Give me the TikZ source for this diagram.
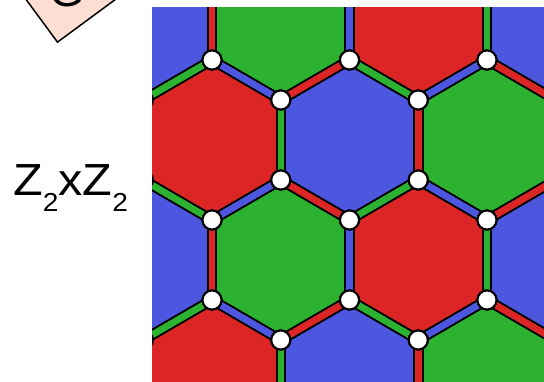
\documentclass[tikz,border=0pt]{standalone}
\usepackage{fontspec}
\setmainfont{Liberation Sans}
\usetikzlibrary{calc}

\definecolor{plaqred}{RGB}{220,38,38}
\definecolor{plaqgreen}{RGB}{45,177,48}
\definecolor{plaqblue}{RGB}{76,86,222}
\definecolor{grouppink}{RGB}{252,222,210}

\newcommand{\lowtwo}{\raisebox{-16pt}{\fontsize{26}{26}\selectfont 2}}
% runs #1 once per plaquette, centre (\cx,\cy), colour \col
\newcommand{\eachplaq}[1]{%
  \foreach \r in {-1,...,3}{%
    \foreach \k in {-1,...,3}{%
      \pgfmathtruncatemacro\odd{mod(\r+2,2)}%
      \pgfmathsetmacro\cx{212+(\k-0.5*(1-\odd))*137.5}%
      \pgfmathsetmacro\cy{20+120*\r}%
      \pgfmathtruncatemacro\colidx{mod(\k+4-\odd,3)}%
      \edef\col{\ifcase\colidx plaqred\or plaqblue\or plaqgreen\fi}%
      #1%
    }}}

\begin{document}
\begin{tikzpicture}[x=1pt, y=-1pt,
    vertex/.style={circle, draw=black, line width=2pt, fill=white,
                   minimum size=19pt, inner sep=0pt},
    bondline/.style={line width=10.5pt, black},
    bondfill/.style={line width=6.5pt}]
  \useasboundingbox (0,0) rectangle (544,381);
  \clip (0,0) rectangle (544,381);

  % the group, cut by the page top
  \node (group) [draw, fill=grouppink, line width=1.5pt, minimum size=86pt,
                 inner sep=0pt, rotate=36.4] at (66.6,-18) {};
  \node (grouptext) [anchor=base, inner sep=0pt, font=\fontsize{45}{45}\selectfont]
    at (67.5,6) {G};

  \node (grouplabel) [anchor=base west, inner sep=0pt,
                      font=\fontsize{45}{45}\selectfont] at (13,195)
    {\scalebox{1.08}[1]{Z\lowtwo{}xZ\lowtwo}};

  % colour code lattice
  \begin{scope}
    \clip (152,7) rectangle (544,381);
    \eachplaq{\fill[\col] (\cx,\cy) +(90:79.4 and 80) -- +(30:79.4 and 80)
      -- +(-30:79.4 and 80) -- +(-90:79.4 and 80) -- +(-150:79.4 and 80)
      -- +(150:79.4 and 80) -- cycle;}
    \eachplaq{\foreach \a in {90,30,...,-210}
      \draw[bondline] (\cx,\cy) ++(\a:79.4 and 80) -- ++(\a:79.4 and 80);}
    \eachplaq{\foreach \a in {90,30,...,-210}
      \draw[bondfill, \col] (\cx,\cy) ++(\a:79.4 and 80) -- ++(\a:79.4 and 80);}
    \eachplaq{\foreach \a in {90,30,...,-210}
      \path (\cx,\cy) ++(\a:79.4 and 80) node[vertex] (v\r\k\a) {};}
  \end{scope}
\end{tikzpicture}
\end{document}
